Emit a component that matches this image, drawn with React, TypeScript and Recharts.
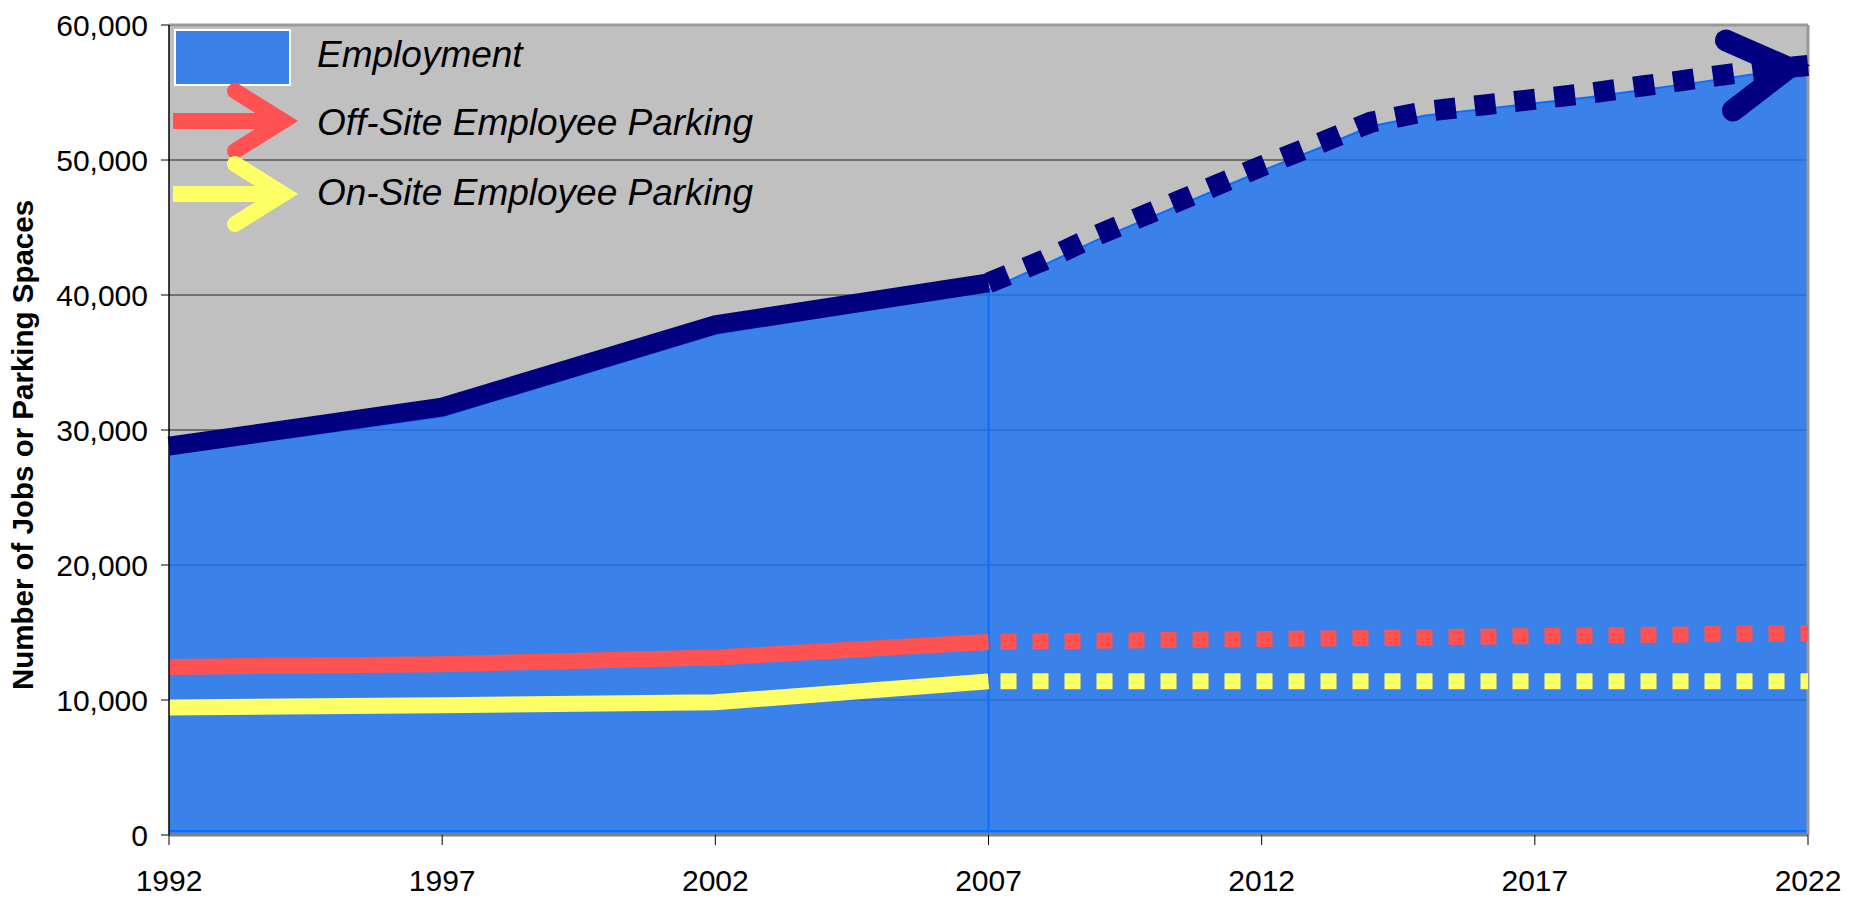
import React from 'react';
import { ComposedChart, Area, Line, XAxis, YAxis, CartesianGrid, ReferenceLine, Legend } from 'recharts';

// historic points (5-year) and projected points (annual)
const histYears = [1992, 1997, 2002, 2007];
const projYears = [2007, 2008, 2009, 2010, 2011, 2012, 2013, 2014, 2015, 2016, 2017, 2018, 2019, 2020, 2021, 2022];
const parkingProjYears = [2007, 2022];

const employmentHist = [28200, 31000, 37100, 40400];
const employmentProj = [40400, 42200, 44100, 45800, 47500, 49200, 50800, 52500, 53300, 53750, 54200, 54650, 55200, 55750, 56350, 57000];

// the heavy navy trend line sits a little above the area edge
const trendHist = [28800, 31700, 37800, 40900];
const trendProj = [40900, 42550, 44450, 46150, 47850, 49550, 51150, 52800, 53600, 54050, 54500, 54950, 55500, 56050, 56600, 57000];

const offSiteHist = [12450, 12650, 13150, 14300];
const offSiteProj = [14300, 14950];
const onSiteHist = [9450, 9620, 9830, 11380];
const onSiteProj = [11380, 11380];

const xTicks = [1992, 1997, 2002, 2007, 2012, 2017, 2022];
const yTicks = [0, 10000, 20000, 30000, 40000, 50000, 60000];

const legendItems = [
    { name: 'Employment', kind: 'box', color: '#3A82E8' },
    { name: 'Off-Site Employee Parking', kind: 'arrow', color: '#FF5252' },
    { name: 'On-Site Employee Parking', kind: 'arrow', color: '#FFFF66' },
];

const allYears = Array.from(new Set([...histYears, ...projYears])).sort((a, b) => a - b);
const data = allYears.map(year => {
    const h = histYears.indexOf(year);
    const p = projYears.indexOf(year);
    const k = parkingProjYears.indexOf(year);
    return {
        year,
        employment: h >= 0 ? employmentHist[h] : employmentProj[p],
        trendHist: h >= 0 ? trendHist[h] : null,
        trendProj: p >= 0 ? trendProj[p] : null,
        offHist: h >= 0 ? offSiteHist[h] : null,
        offProj: k >= 0 ? offSiteProj[k] : null,
        onHist: h >= 0 ? onSiteHist[h] : null,
        onProj: k >= 0 ? onSiteProj[k] : null,
    };
});

const FONT = '"Liberation Sans", Arial, sans-serif';
const NAVY = '#000080';
const EDGE = '#0A6EFF';

const ArrowHead = (props: any) => {
    const { cx, cy, index } = props;
    if (index !== data.length - 1 || cx == null) return <g key={`d${index}`} />;
    return (
        <path
            key="arrowhead"
            d={`M${cx - 82},${cy - 25} L${cx - 19.5},${cy + 2.4} L${cx - 75},${cy + 45}`}
            fill="none"
            stroke={NAVY}
            strokeWidth={22}
            strokeLinecap="round"
            strokeLinejoin="miter"
        />
    );
};

const rowY = [29, 93, 166];
const textY = [26, 94, 164];

const LegendBox = () => (
    <svg width={560} height={205} style={{ display: 'block', overflow: 'visible' }}>
        {legendItems.map((it, i) => (
            <g key={it.name}>
                {it.kind === 'box' ? (
                    <rect x={2} y={2} width={115} height={55} fill={it.color} stroke="#fff" strokeWidth={2} />
                ) : (
                    <g>
                        <line x1={0} y1={rowY[i]} x2={112} y2={rowY[i]} stroke={it.color} strokeWidth={16} />
                        <path
                            d={`M62,${rowY[i] - 30} L110,${rowY[i]} L62,${rowY[i] + 30}`}
                            fill="none"
                            stroke={it.color}
                            strokeWidth={16}
                            strokeLinecap="round"
                            strokeLinejoin="miter"
                        />
                    </g>
                )}
                <text
                    x={144}
                    y={textY[i]}
                    dominantBaseline="central"
                    fontFamily={FONT}
                    fontStyle="italic"
                    fontSize={37}
                    fill="#000"
                >
                    {it.name}
                </text>
            </g>
        ))}
    </svg>
);

const YTitle = (props: any) => {
    const vb = props.viewBox || { x: 0, y: 25, width: 169, height: 810 };
    const x = vb.x + 22;
    const y = vb.y + vb.height / 2 + 15;
    return (
        <text
            x={x}
            y={y}
            transform={`rotate(-90 ${x} ${y})`}
            textAnchor="middle"
            dominantBaseline="central"
            fontFamily={FONT}
            fontWeight="bold"
            fontSize={29.5}
            fill="#000"
        >
            Number of Jobs or Parking Spaces
        </text>
    );
};

export default function App() {
    return (
        <div style={{ width: 1853, height: 898 }}>
            <style>{'body{margin:0}'}</style>
            <ComposedChart width={1853} height={898} data={data} margin={{ top: 25, right: 45, bottom: 0, left: 0 }}>
                <CartesianGrid vertical={false} stroke="#222" strokeWidth={1} fill="#C0C0C0" fillOpacity={1} />
                <XAxis
                    dataKey="year"
                    type="number"
                    domain={[1992, 2022]}
                    ticks={xTicks}
                    height={63}
                    tickSize={10}
                    tickMargin={25}
                    axisLine={{ stroke: '#808080', strokeWidth: 3 }}
                    tickLine={{ stroke: '#000' }}
                    tick={{ fill: '#000', fontSize: 30, fontFamily: FONT }}
                    interval={0}
                />
                <YAxis
                    type="number"
                    domain={[0, 60000]}
                    ticks={yTicks}
                    width={169}
                    tickSize={8}
                    tickMargin={13}
                    axisLine={{ stroke: '#000', strokeWidth: 1.5 }}
                    tickLine={{ stroke: '#000' }}
                    tick={{ fill: '#000', fontSize: 30, fontFamily: FONT }}
                    tickFormatter={(v: number) => v.toLocaleString('en-US')}
                    label={YTitle}
                    interval={0}
                />
                <Area
                    type="linear"
                    dataKey="employment"
                    fill="#1C74F1"
                    fillOpacity={0.82}
                    stroke={EDGE}
                    strokeWidth={2}
                    isAnimationActive={false}
                    connectNulls
                />
                <ReferenceLine segment={[{ x: 2007, y: 0 }, { x: 2007, y: employmentHist[3] }]} stroke={EDGE} strokeWidth={2} />
                <ReferenceLine segment={[{ x: 1992, y: 300 }, { x: 2022, y: 300 }]} stroke={EDGE} strokeWidth={2} />
                <ReferenceLine y={60000} stroke="#999" strokeWidth={3} />
                <ReferenceLine x={2022} stroke="#999" strokeWidth={3} />
                <Line type="linear" dataKey="offHist" stroke="#FF5252" strokeWidth={16} dot={false} connectNulls isAnimationActive={false} />
                <Line type="linear" dataKey="offProj" stroke="#FF5252" strokeWidth={16} strokeDasharray="16 16" strokeDashoffset={-12} dot={false} connectNulls isAnimationActive={false} />
                <Line type="linear" dataKey="onHist" stroke="#FFFF66" strokeWidth={16} dot={false} connectNulls isAnimationActive={false} />
                <Line type="linear" dataKey="onProj" stroke="#FFFF66" strokeWidth={16} strokeDasharray="16 16" strokeDashoffset={-12} dot={false} connectNulls isAnimationActive={false} />
                <Line type="linear" dataKey="trendHist" stroke={NAVY} strokeWidth={19} dot={false} connectNulls isAnimationActive={false} />
                <Line type="linear" dataKey="trendProj" stroke={NAVY} strokeWidth={21} strokeDasharray="21 19" dot={ArrowHead} activeDot={false} connectNulls isAnimationActive={false} />
                <Legend
                    layout="vertical"
                    align="center"
                    verticalAlign="middle"
                    content={LegendBox}
                    wrapperStyle={{ left: 173, top: 28, width: 560 }}
                />
            </ComposedChart>
        </div>
    );
}
